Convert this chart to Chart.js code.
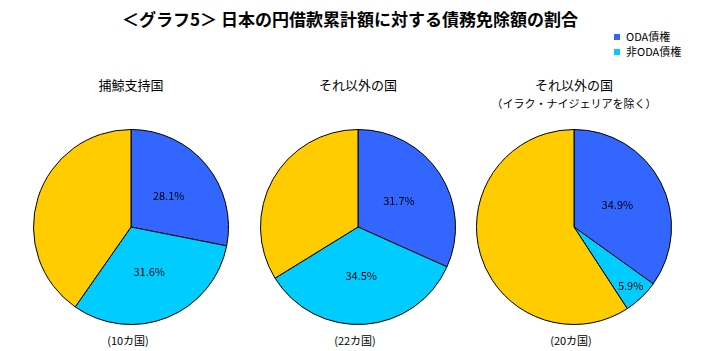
<!DOCTYPE html>
<html>
<head>
<meta charset="utf-8">
<script src="https://cdn.jsdelivr.net/npm/chart.js@4/dist/chart.umd.min.js"></script>
<style>
  body { margin: 0; background: #fff; }
  #wrap { position: relative; width: 724px; height: 351px; font-family: "Noto Sans CJK JP", sans-serif; color: #000; }
  .txt { position: absolute; white-space: nowrap; transform: translate(-50%, -50%); }
  canvas { position: absolute; }
  .leg { position: absolute; font-size: 11px; line-height: 11px; }
  .leg i { display: inline-block; width: 6px; height: 6px; margin-right: 6px; vertical-align: 1px; }
</style>
</head>
<body>
<div id="wrap">
  <div class="txt" style="left:350px;top:18px;font-size:17px;font-weight:bold;">＜グラフ5＞ 日本の円借款累計額に対する債務免除額の割合</div>
  <div id="legend"></div>
</div>
<script>
const seriesNames = ['ODA債権', '非ODA債権', 'その他'];
const colors = ['#3366FF', '#00CCFF', '#FFCC00'];
const groups = ['捕鯨支持国', 'それ以外の国', 'それ以外の国'];
const groupNotes = ['', '（イラク・ナイジェリアを除く）', ''];
const countries = ['(10カ国)', '(22カ国)', '(20カ国)'];
const odaShare = [28.1, 31.7, 34.9];
const nonOdaShare = [31.6, 34.5, 5.9];
const otherShare = [40.3, 33.8, 59.2];

const centersX = [131, 358, 574];
const size = 196;
const wrap = document.getElementById('wrap');

// legend (first two series only)
const legend = document.getElementById('legend');
[0, 1].forEach(i => {
  const d = document.createElement('div');
  d.className = 'leg';
  d.style.left = '614px';
  d.style.top = (31 + i * 15) + 'px';
  d.innerHTML = '<i style="background:' + colors[i] + '"></i>' + seriesNames[i];
  legend.appendChild(d);
});

// percent labels for ODA / non-ODA slices
const pctLabels = {
  id: 'pctLabels',
  afterDatasetsDraw(chart) {
    const ctx = chart.ctx;
    const meta = chart.getDatasetMeta(0);
    const vals = chart.data.datasets[0].data;
    ctx.save();
    ctx.font = '11px "Noto Sans CJK JP", sans-serif';
    ctx.fillStyle = '#000';
    ctx.textAlign = 'center';
    ctx.textBaseline = 'middle';
    meta.data.forEach((arc, i) => {
      if (i > 1) return;
      const mid = (arc.startAngle + arc.endAngle) / 2;
      const r = vals[i] < 10 ? arc.outerRadius * 0.84 : arc.outerRadius * 0.5;
      const x = arc.x + Math.cos(mid) * r;
      const y = arc.y + Math.sin(mid) * r;
      ctx.fillText(vals[i].toFixed(1) + '%', x, y);
    });
    ctx.restore();
  }
};

groups.forEach((g, k) => {
  const t = document.createElement('div');
  t.className = 'txt';
  t.style.left = centersX[k] + 'px';
  t.style.top = '84px';
  t.style.fontSize = '13px';
  t.textContent = g;
  wrap.appendChild(t);

  if (k === 2) {
    const n = document.createElement('div');
    n.className = 'txt';
    n.style.left = centersX[k] + 'px';
    n.style.top = '103px';
    n.style.fontSize = '11px';
    n.textContent = groupNotes[1];
    wrap.appendChild(n);
  }

  const c = document.createElement('div');
  c.className = 'txt';
  c.style.left = (centersX[k] - 3) + 'px';
  c.style.top = '340px';
  c.style.fontSize = '11px';
  c.textContent = countries[k];
  wrap.appendChild(c);

  const cv = document.createElement('canvas');
  cv.width = size;
  cv.height = size;
  cv.style.left = (centersX[k] - size / 2) + 'px';
  cv.style.top = (227 - size / 2) + 'px';
  wrap.appendChild(cv);

  new Chart(cv.getContext('2d'), {
    type: 'pie',
    data: {
      labels: seriesNames,
      datasets: [{
        data: [odaShare[k], nonOdaShare[k], otherShare[k]],
        backgroundColor: colors,
        borderColor: '#000',
        borderWidth: 1
      }]
    },
    options: {
      responsive: false,
      animation: false,
      devicePixelRatio: 1,
      plugins: {
        legend: { display: false },
        tooltip: { enabled: false }
      }
    },
    plugins: [pctLabels]
  });
});
</script>
</body>
</html>
